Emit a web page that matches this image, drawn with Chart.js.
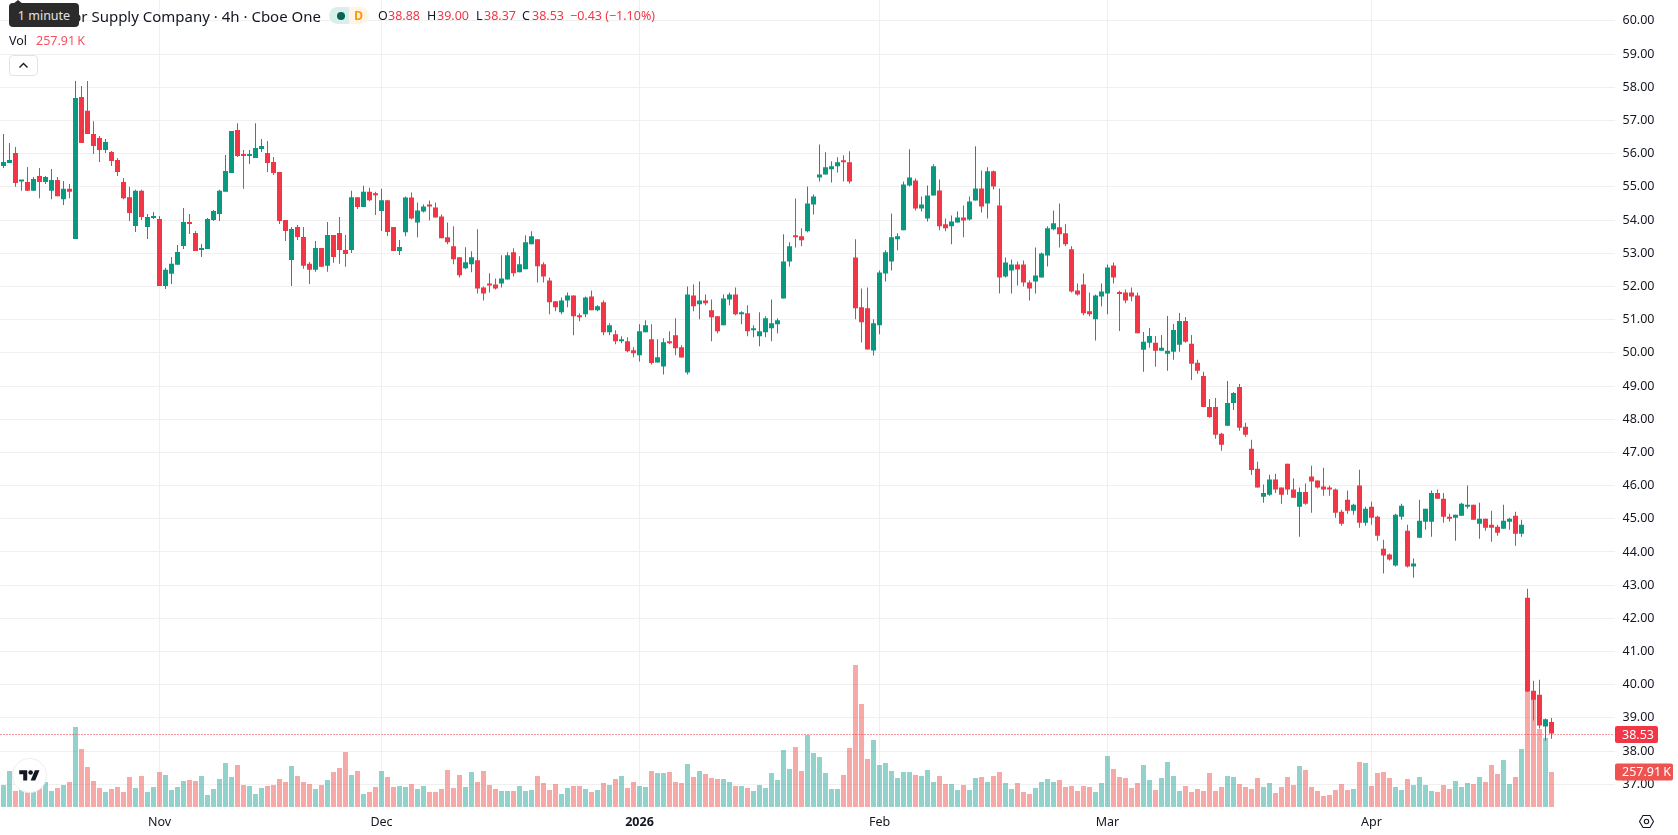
<!DOCTYPE html>
<html>
<head>
<meta charset="utf-8">
<title>Tractor Supply Company</title>
<script src="https://cdn.jsdelivr.net/npm/chart.js@4"></script>
<style>
  html, body { margin:0; padding:0; background:#fff; width:1678px; height:835px; overflow:hidden; font-family:"Noto Sans",sans-serif; color:#131722; }
  #chart { position:absolute; left:0; top:0; }
  .abs { position:absolute; white-space:nowrap; line-height:18px; }
  #title { right:1357px; top:7px; font-size:15px; }
  #tip { left:9px; top:3px; width:70px; height:24px; background:#2b2b2b; border-radius:4px; color:#e4e4e4; font-size:12.5px; line-height:25px; text-align:center; z-index:2; }
  #tipArrow { left:13px; top:0; width:0; height:0; border-left:5px solid transparent; border-right:5px solid transparent; border-bottom:4px solid #2b2b2b; z-index:2; }
  #pill { left:329px; top:7px; width:40px; height:17px; border-radius:9px; background:linear-gradient(90deg,#daefeb 50%,#fff4e6 50%); }
  #dot { left:336.5px; top:11.5px; width:8px; height:8px; border-radius:50%; background:#056656; }
  #daily { left:354px; top:7px; font-size:12.5px; font-weight:700; color:#ff9800; }
  .leg { top:7px; font-size:12.5px; }
  .red { color:#f23645; }
  #volName { left:9px; top:32px; font-size:12.5px; }
  #volValue { left:36px; top:32px; font-size:12.5px; color:#f7525f; }
  #collapse { left:9px; top:55px; width:27px; height:19px; border:1px solid #e0e3eb; border-radius:4px; background:#fff; }
  #logo { left:12px; top:758px; width:33px; height:33px; border-radius:50%; background:#fff; border:1px solid #ececec; }
  #gear { left:1638px; top:813px; }
</style>
</head>
<body>
<canvas id="chart" width="1678" height="835"></canvas>

<div class="abs" id="title">Tractor Supply Company · 4h · Cboe One</div>
<div class="abs" id="tipArrow"></div>
<div class="abs" id="tip">1 minute</div>
<div class="abs" id="pill"></div>
<div class="abs" id="dot"></div>
<div class="abs" id="daily">D</div>
<div class="abs leg" style="left:378px">O</div><div class="abs leg red" style="left:388px">38.88</div>
<div class="abs leg" style="left:427px">H</div><div class="abs leg red" style="left:437px">39.00</div>
<div class="abs leg" style="left:476px">L</div><div class="abs leg red" style="left:484px">38.37</div>
<div class="abs leg" style="left:522px">C</div><div class="abs leg red" style="left:532px">38.53</div>
<div class="abs leg red" style="left:570px">−0.43 (−1.10%)</div>
<div class="abs" id="volName">Vol</div>
<div class="abs" id="volValue">257.91&#8201;K</div>
<div class="abs" id="collapse">
  <svg width="27" height="19" viewBox="0 0 27 19"><path d="M9.5 11.5l4-4 4 4" fill="none" stroke="#131722" stroke-width="1.4"/></svg>
</div>
<div class="abs" id="logo">
  <svg style="position:absolute;left:6px;top:9px" width="21" height="16" viewBox="0 0 36 28"><path d="M14 22H7V11H0V4h14v18zM28 22h-8l7.5-18h8L28 22z" fill="#131722"/><circle cx="20" cy="8" r="4" fill="#131722"/></svg>
</div>
<div class="abs" id="gear">
  <svg width="17" height="17" viewBox="0 0 17 17"><path d="M5 2.5h7l3.5 6-3.5 6H5l-3.5-6z" fill="none" stroke="#131722" stroke-width="1.1"/><circle cx="8.5" cy="8.5" r="2.2" fill="none" stroke="#131722" stroke-width="1.1"/></svg>
</div>

<script>
const opens = [
  55.63,55.72,56.02,55.16,55.15,54.88,55.33,55.15,54.88,55.21,
  54.63,54.94,53.43,57.71,57.29,56.59,56.47,56.11,56.05,55.81,
  55.15,54.69,53.82,54.88,53.79,54.06,54.03,52.01,52.38,52.65,
  53.22,53.91,53.61,53.10,53.13,54.00,54.18,54.85,55.42,56.71,
  55.96,55.93,55.87,56.14,56.02,55.75,55.45,54.00,52.80,53.79,
  53.49,52.68,52.50,53.16,52.62,53.55,53.61,53.10,53.10,54.69,
  54.39,54.85,54.79,54.27,54.60,53.79,53.07,53.63,54.68,53.93,
  54.26,54.44,54.38,54.11,53.48,53.21,52.88,52.55,52.67,52.79,
  51.97,52.09,52.06,52.09,52.21,53.03,52.43,52.52,53.27,53.42,
  52.67,52.18,51.55,51.22,51.58,51.73,51.13,51.16,51.70,51.28,
  51.52,50.62,50.56,50.35,50.35,50.08,49.93,50.62,50.41,49.71,
  49.59,50.32,50.53,50.17,49.41,51.73,51.46,51.58,51.28,51.10,
  50.83,51.61,51.76,51.16,51.19,50.68,50.50,50.62,50.74,50.86,
  51.64,52.75,53.54,53.51,53.66,54.47,55.28,55.37,55.53,55.62,
  55.77,55.74,52.87,51.37,51.34,50.07,50.83,52.39,52.75,53.42,
  53.69,55.04,55.19,54.35,54.05,54.74,54.89,53.87,53.81,53.93,
  54.08,54.02,54.59,54.95,54.50,55.47,54.44,52.30,52.48,52.66,
  52.66,52.12,52.15,52.27,52.93,53.72,53.78,53.60,53.12,51.88,
  52.06,51.25,51.01,51.70,51.79,52.63,51.80,51.82,51.82,51.73,
  50.09,50.30,50.30,50.06,49.97,50.03,50.24,50.96,50.27,49.70,
  49.30,48.37,48.37,47.56,47.80,48.49,48.97,47.77,47.11,46.51,
  45.66,45.72,46.18,45.94,46.66,45.88,45.36,45.81,46.27,46.15,
  45.97,45.91,45.88,45.21,45.57,45.24,46.00,44.88,45.36,45.06,
  44.10,43.92,43.59,45.06,44.64,43.56,44.43,44.91,44.91,45.78,
  45.60,45.06,45.03,45.09,45.36,45.42,44.85,45.00,44.82,44.76,
  44.70,44.91,45.09,44.55,42.62,39.82,39.70,38.74,38.88
];
const highs = [
  56.59,56.32,56.20,55.18,55.60,55.30,55.57,55.33,55.54,55.30,
  55.18,55.09,58.19,58.04,58.19,56.98,56.53,56.44,56.08,55.87,
  55.27,55.00,54.91,54.91,54.18,54.24,54.12,52.56,52.89,53.25,
  54.36,54.18,53.67,53.28,54.06,54.30,54.91,55.96,56.68,56.92,
  56.11,56.11,56.92,56.44,56.38,55.90,55.45,54.00,53.79,53.85,
  53.79,52.74,53.37,53.16,53.94,53.55,54.09,53.55,54.88,54.69,
  55.03,54.97,54.85,54.94,54.60,53.79,53.40,54.71,54.83,54.53,
  54.47,54.59,54.53,54.17,53.93,53.81,52.88,53.18,53.06,53.72,
  52.00,52.40,52.24,52.94,53.03,53.15,52.91,53.54,53.66,53.42,
  52.73,52.27,51.55,51.67,51.82,51.73,51.19,51.70,51.88,51.43,
  51.58,50.89,50.68,50.50,50.47,50.17,50.86,50.98,50.86,50.41,
  50.44,50.65,51.04,50.23,52.00,52.06,52.15,51.76,51.61,51.10,
  51.76,51.82,51.97,51.25,51.43,50.83,51.22,51.10,51.61,51.04,
  53.57,53.33,54.65,53.75,55.01,54.77,56.28,56.04,55.77,55.89,
  55.95,56.07,53.42,51.94,51.97,51.01,52.48,53.09,54.20,53.60,
  55.16,56.13,55.25,54.71,55.04,55.68,55.22,54.05,54.14,54.26,
  54.44,54.71,56.22,55.49,55.59,55.49,54.95,52.87,52.81,52.75,
  52.78,52.18,53.17,53.02,53.81,54.29,54.50,53.87,53.21,52.09,
  52.39,51.82,51.76,52.09,52.66,52.72,51.87,51.91,51.97,51.82,
  50.63,50.75,50.51,50.54,51.11,50.87,51.20,51.08,50.54,49.79,
  49.43,48.61,48.64,47.59,49.15,48.82,49.06,47.89,47.38,46.72,
  46.03,46.33,46.36,45.94,46.66,46.21,45.94,46.06,46.60,46.15,
  46.54,46.00,45.91,45.27,45.85,45.45,46.48,45.36,45.51,45.09,
  44.37,43.95,45.15,45.45,44.82,43.80,45.57,45.30,45.85,45.88,
  45.78,45.15,45.12,45.48,46.00,45.42,45.48,45.00,45.24,44.82,
  45.42,45.03,45.21,44.97,42.89,40.12,40.15,38.98,39.00
];
const lows = [
  55.57,55.72,55.00,54.88,54.88,54.88,54.66,55.09,54.63,54.72,
  54.45,54.66,53.43,56.32,56.59,55.99,55.75,56.02,55.63,55.33,
  54.63,53.97,53.64,54.00,53.43,54.03,52.01,51.92,52.07,52.65,
  53.13,53.58,53.07,52.89,53.13,53.97,53.97,54.85,55.42,55.90,
  54.94,55.69,55.87,56.05,55.45,55.36,53.88,53.37,52.01,53.40,
  52.53,52.07,52.44,52.59,52.44,52.71,52.68,52.59,53.01,54.33,
  54.39,54.57,54.15,53.67,53.52,53.07,52.95,53.51,54.02,53.48,
  54.23,53.99,54.08,53.45,53.27,52.67,52.27,52.52,52.43,51.79,
  51.58,51.82,51.91,51.97,52.21,52.30,52.43,52.52,53.27,52.12,
  52.12,51.16,51.25,51.16,51.37,50.53,50.95,51.07,51.28,51.25,
  50.53,50.53,50.26,50.29,50.02,49.87,49.74,50.62,49.65,49.71,
  49.35,50.26,49.93,49.86,49.35,51.25,51.01,51.43,50.35,50.59,
  50.83,51.43,51.13,50.86,50.50,50.47,50.20,50.47,50.35,50.59,
  51.64,52.60,53.17,53.21,53.63,54.17,55.16,55.37,55.13,55.43,
  55.16,55.10,51.01,50.31,50.10,49.92,50.56,52.15,52.48,53.09,
  53.69,55.01,54.29,54.26,53.96,54.74,53.69,53.66,53.27,53.93,
  53.48,53.99,54.59,54.23,54.05,54.92,51.79,52.27,51.79,52.03,
  52.00,51.58,51.79,52.27,52.60,53.69,53.17,53.21,51.82,51.73,
  51.13,51.10,50.37,51.40,51.16,52.09,50.66,51.49,51.55,50.59,
  49.43,50.15,49.58,50.06,49.46,49.79,50.03,50.30,49.18,49.37,
  48.37,48.04,47.41,47.05,47.80,48.28,47.65,47.47,46.32,45.94,
  45.48,45.69,45.78,45.45,45.72,45.63,44.46,45.42,45.18,45.91,
  45.69,45.69,45.03,44.79,45.15,45.12,44.73,44.79,44.82,44.34,
  43.35,43.74,43.56,44.97,43.53,43.22,44.43,44.67,44.46,45.60,
  44.88,44.91,44.34,45.09,45.30,44.97,44.40,44.64,44.31,44.49,
  44.70,44.67,44.19,44.46,39.79,38.92,38.68,38.31,38.37
];
const closes = [
  55.75,55.81,55.12,55.18,54.88,55.24,55.15,55.30,55.21,54.72,
  54.94,54.85,57.68,56.32,56.59,56.23,56.11,56.35,55.78,55.45,
  54.66,54.21,54.88,54.09,54.09,54.12,52.01,52.50,52.68,53.04,
  53.94,53.88,53.07,53.13,54.03,54.27,54.88,55.48,56.68,55.93,
  55.93,55.99,56.17,56.23,55.72,55.42,53.97,53.67,53.73,53.49,
  52.62,52.50,53.16,52.59,53.55,52.89,53.10,52.98,54.69,54.39,
  54.85,54.60,54.75,54.60,53.64,53.07,53.19,54.68,54.05,54.29,
  54.41,54.41,54.08,53.45,53.33,52.82,52.34,52.73,52.88,51.94,
  51.79,52.03,51.94,52.24,52.94,52.40,52.67,53.33,53.51,52.61,
  52.30,51.52,51.37,51.58,51.73,51.10,51.07,51.67,51.28,51.40,
  50.62,50.83,50.35,50.38,50.05,49.99,50.65,50.83,49.69,49.87,
  50.32,50.29,50.14,49.86,51.76,51.40,51.58,51.49,51.07,50.65,
  51.64,51.76,51.16,51.19,50.65,50.74,50.65,51.04,50.89,50.98,
  52.75,53.21,53.48,53.39,54.50,54.71,55.37,55.59,55.62,55.74,
  55.74,55.16,51.34,50.92,50.10,50.89,52.42,53.03,53.48,53.51,
  55.07,55.28,54.35,54.47,54.74,55.62,53.81,53.75,53.96,54.08,
  53.99,54.56,54.95,54.41,55.47,55.01,52.27,52.72,52.66,52.51,
  52.12,51.94,52.33,52.99,53.75,53.90,53.57,53.27,51.85,51.76,
  51.19,51.16,51.73,51.85,52.57,52.27,51.77,51.58,51.70,50.59,
  50.33,50.51,50.06,50.15,50.06,50.69,50.96,50.33,49.67,49.46,
  48.37,48.07,47.53,47.23,48.49,48.79,47.74,47.53,46.47,45.94,
  45.78,46.18,45.88,45.72,45.88,45.63,45.81,45.45,46.12,45.94,
  45.88,45.88,45.18,44.85,45.24,45.42,44.88,45.30,45.03,44.49,
  43.89,43.77,45.12,45.39,43.56,43.65,44.94,45.30,45.78,45.60,
  45.06,45.00,45.12,45.45,45.39,44.97,45.00,44.73,44.73,44.58,
  44.94,45.00,44.55,44.82,39.79,39.55,38.77,38.96,38.53
];
// volume per bar, in thousands
const volumes = [
  162,265,118,125,111,118,138,184,118,140,
  162,184,590,427,295,192,140,111,133,147,
  111,221,140,228,111,147,258,236,125,147,
  192,199,192,228,88,133,206,324,221,309,
  162,155,96,140,155,162,206,184,302,228,
  184,169,133,162,199,258,287,405,236,265,
  96,111,147,265,221,147,155,147,169,133,
  155,111,111,133,273,140,236,147,258,184,
  265,162,133,118,118,118,155,118,125,228,
  177,125,169,96,140,155,155,133,111,125,
  177,162,206,228,140,184,155,147,265,251,
  251,258,184,177,317,221,265,243,214,206,
  206,184,155,155,140,118,162,140,251,199,
  420,280,442,265,531,398,368,251,133,133,
  236,435,1046,759,354,494,309,324,265,214,
  258,258,236,228,273,184,228,169,169,125,
  162,125,214,221,184,228,258,177,133,177,
  111,96,140,184,206,184,199,147,155,118,
  155,147,111,177,376,280,221,214,140,177,
  309,199,125,214,332,228,118,155,111,133,
  118,251,118,147,228,221,169,147,133,214,
  147,177,103,147,221,162,302,273,147,118,
  81,88,125,169,125,133,332,324,155,251,
  258,214,147,125,206,162,221,162,118,111,
  162,133,192,147,177,169,221,184,309,243,
  346,169,221,427,847,800,575,508,257.91
];

const tickIndices = [26,63,106,146,184,228];
const tickNames = ['Nov','Dec','2026','Feb','Mar','Apr'];
const priceTicks = [37,38,39,40,41,42,43,44,45,46,47,48,49,50,51,52,53,54,55,56,57,58,59,60];
const emptySlots = 10;

const lastClose = closes[closes.length-1];
const lastVolume = volumes[volumes.length-1];

const upColor = '#089981', downColor = '#f23645';
const upVolColor = 'rgba(38,166,154,0.5)', downVolColor = 'rgba(239,83,80,0.5)';
const gridColor = '#f0f0f0';
const axisFont = { family:'"Noto Sans",sans-serif', size:12.5 };

const isUp = i => closes[i] >= opens[i];

// category slots, with blank room to the right of the last bar
const slotLabels = [];
for(let i=0;i<opens.length+emptySlots;i++) slotLabels.push('');
tickIndices.forEach((idx,n)=>{ slotLabels[idx] = tickNames[n]; });

const bodies = opens.map((o,i)=>[Math.min(o,closes[i]),Math.max(o,closes[i])]);
const wicks = lows.map((l,i)=>[l,highs[i]]);
const candleColors = opens.map((o,i)=>isUp(i)?upColor:downColor);
const volColors = opens.map((o,i)=>isUp(i)?upVolColor:downVolColor);

// dotted last-price line plus the two tags on the price axis
const lastValuePlugin = {
    id:'lastValue',
    afterDraw(chart){
        const c = chart.ctx, area = chart.chartArea;
        const py = Math.round(chart.scales.y.getPixelForValue(lastClose))+0.5;
        const vy = chart.scales.vol.getPixelForValue(lastVolume);
        c.save();
        c.strokeStyle = downColor;
        c.lineWidth = 1;
        c.setLineDash([1,2]);
        c.beginPath(); c.moveTo(area.left,py); c.lineTo(area.right,py); c.stroke();
        c.setLineDash([]);
        c.font = '12.5px "Noto Sans",sans-serif';
        c.textBaseline = 'middle';
        c.fillStyle = downColor;
        c.beginPath(); c.roundRect(1615,py-8.5,43,17,2); c.fill();
        c.fillStyle = '#ef5350';
        c.beginPath(); c.roundRect(1615,vy-8.5,58,17,2); c.fill();
        c.fillStyle = '#fff';
        c.fillText(lastClose.toFixed(2),1622,py+0.5);
        c.fillText(lastVolume.toFixed(2)+'\u2009K',1622,vy+0.5);
        c.restore();
    }
};

const ctx = document.getElementById('chart').getContext('2d');
new Chart(ctx,{
    type:'bar',
    data:{
        labels:slotLabels,
        datasets:[
            { label:'Body', data:bodies, backgroundColor:candleColors, barThickness:5, minBarLength:2, order:1, yAxisID:'y' },
            { label:'Wick', data:wicks, backgroundColor:candleColors, barThickness:1, order:2, yAxisID:'y' },
            { label:'Vol', data:volumes, backgroundColor:volColors, barThickness:5, order:3, yAxisID:'vol' }
        ]
    },
    options:{
        responsive:false,
        animation:false,
        events:[],
        layout:{ padding:{ left:0.5 } },
        datasets:{ bar:{ grouped:false, borderWidth:0, inflateAmount:0 } },
        plugins:{ legend:{display:false}, tooltip:{enabled:false} },
        scales:{
            x:{
                type:'category',
                offset:true,
                grid:{ offset:false, color:'#efeff1', drawTicks:false },
                border:{ display:false },
                ticks:{
                    autoSkip:false, maxRotation:0, padding:8, color:'#131722',
                    font:c=>c.tick && c.tick.label==='2026' ? {...axisFont,weight:'bold'} : axisFont
                },
                afterBuildTicks:s=>{ s.ticks = tickIndices.map(v=>({value:v})); },
                afterFit:s=>{ s.height = 28; s.paddingLeft = 0; s.paddingRight = 0; }
            },
            y:{
                position:'right',
                min:36.316,
                max:60.63,
                grid:{ color:gridColor, drawTicks:false },
                border:{ display:false },
                ticks:{ padding:8, color:'#131722', font:axisFont, callback:v=>v.toFixed(2) },
                afterBuildTicks:s=>{ s.ticks = priceTicks.map(v=>({value:v})); },
                // tick labels must not push the plot down from the top edge
                afterFit:s=>{ s.width = 63.5; s.paddingTop = 0; s.paddingBottom = 0; }
            },
            vol:{ display:false, min:0, max:5947 }
        }
    },
    plugins:[lastValuePlugin]
});
</script>
</body>
</html>
